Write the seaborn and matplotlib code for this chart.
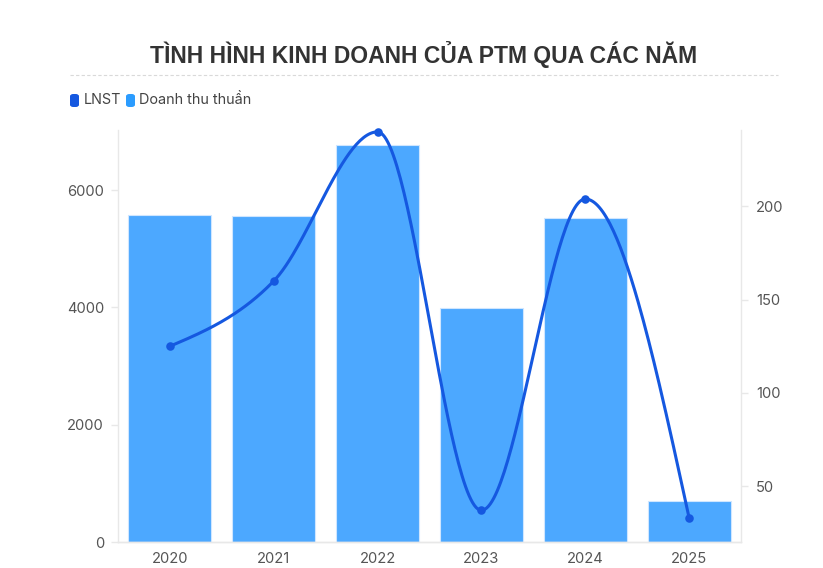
"""
Business results of PTM by year: net revenue bars and net profit line.
"""
import numpy as np
import pandas as pd
import matplotlib
matplotlib.use("Agg")
import matplotlib.pyplot as plt
import seaborn as sns
from matplotlib.patches import FancyBboxPatch
from matplotlib.lines import Line2D

# Data
years = ["2020", "2021", "2022", "2023", "2024", "2025"]
revenue = [5575, 5557, 6768, 3989, 5523, 699]     # Doanh thu thuần (left axis)
profit = [125, 160, 240, 37, 204, 33]             # LNST (right axis)

left_ticks = [0, 2000, 4000, 6000]
right_ticks = [50, 100, 150, 200]

BAR_COLOR = "#4ca8ff"
LINE_COLOR = "#1558e0"
LEGEND_BAR = "#2b9cff"
AXIS_GRAY = "#e8e8e8"
TEXT_GRAY = "#555555"

W, H = 823, 568


def fx(px):
    return px / W


def fy(py):
    return 1 - py / H


def monotone_curve(xs, ys, n=60):
    """Monotone cubic (d3 curveMonotoneX style) through the given points."""
    xs = np.asarray(xs, float)
    ys = np.asarray(ys, float)
    h = np.diff(xs)
    s = np.diff(ys) / h
    t = np.zeros_like(ys)
    for i in range(1, len(ys) - 1):
        p = (s[i - 1] * h[i] + s[i] * h[i - 1]) / (h[i - 1] + h[i])
        t[i] = (np.sign(s[i - 1]) + np.sign(s[i])) * min(abs(s[i - 1]), abs(s[i]), 0.5 * abs(p))
    t[0] = (3 * s[0] - t[1]) / 2
    t[-1] = (3 * s[-1] - t[-2]) / 2
    out_x, out_y = [], []
    for i in range(len(xs) - 1):
        u = np.linspace(0, 1, n)
        h00 = 2 * u**3 - 3 * u**2 + 1
        h10 = u**3 - 2 * u**2 + u
        h01 = -2 * u**3 + 3 * u**2
        h11 = u**3 - u**2
        out_x.append(xs[i] + u * h[i])
        out_y.append(h00 * ys[i] + h10 * h[i] * t[i] + h01 * ys[i + 1] + h11 * h[i] * t[i + 1])
    return np.concatenate(out_x), np.concatenate(out_y)


sns.set_theme(style="white")
plt.rcParams['font.family'] = ['Inter', 'DejaVu Sans']

df = pd.DataFrame({"year": years, "revenue": revenue, "profit": profit})

fig = plt.figure(figsize=(W / 100, H / 100), dpi=100)
ax = fig.add_axes([fx(118), 1 - 542 / H, 623 / W, 412 / H])

sns.barplot(data=df, x="year", y="revenue", color=BAR_COLOR, saturation=1,
            width=0.8, edgecolor="#cfe6ff", linewidth=0.8, ax=ax, zorder=2)
ax.set_xlim(-0.5, len(years) - 0.5)
ax.set_ylim(0, 7025)
ax.set_yticks(left_ticks)
ax.set_xlabel("")
ax.set_ylabel("")

ax2 = ax.twinx()
xi = np.arange(len(years))
cx, cy = monotone_curve(xi, profit)
ax2.plot(cx, cy, color=LINE_COLOR, lw=2.2, solid_capstyle="round", zorder=3)
sns.scatterplot(x=xi, y=profit, color=LINE_COLOR, s=38, edgecolor=LINE_COLOR,
                linewidth=0, ax=ax2, zorder=4, clip_on=False)
ax2.set_ylim(20, 241)
ax2.set_yticks(right_ticks)
ax2.set_xlim(-0.5, len(years) - 0.5)

for a in (ax, ax2):
    a.spines["top"].set_visible(False)
    for side in ("left", "right", "bottom"):
        a.spines[side].set_color(AXIS_GRAY)
        a.spines[side].set_linewidth(1)
    a.tick_params(axis="both", colors=AXIS_GRAY, labelcolor=TEXT_GRAY,
                  labelsize=10.6, length=5, width=1, pad=4)
ax2.spines["left"].set_visible(False)
ax.spines["right"].set_visible(False)
ax.tick_params(axis="x", pad=2)
ax.tick_params(axis="y", left=True, pad=5)
ax2.tick_params(axis="y", right=True, pad=6)
ax.set_zorder(1)
ax2.set_zorder(2)
ax2.patch.set_visible(False)

# Title and dashed separator
fig.text(fx(424), fy(55), "TÌNH HÌNH KINH DOANH CỦA PTM QUA CÁC NĂM",
         ha="center", va="center", fontsize=16.5, fontweight="bold",
         color="#333333", family=["Liberation Sans", "DejaVu Sans"])
fig.add_artist(Line2D([fx(70), fx(778)], [fy(75), fy(75)], transform=fig.transFigure,
                      color="#d9d9d9", lw=0.8, ls=(0, (3, 2))))

# Legend with rounded markers
legend_items = [("LNST", LINE_COLOR, 70, 84), ("Doanh thu thuần", LEGEND_BAR, 126, 139)]
for label, col, mx, tx in legend_items:
    fig.add_artist(FancyBboxPatch((fx(mx), fy(107)), 9 / W, 13 / H,
                                  boxstyle="round,pad=0,rounding_size=0.004",
                                  transform=fig.transFigure, facecolor=col,
                                  edgecolor="none"))
    fig.text(fx(tx), fy(100), label, ha="left", va="center", fontsize=10.4,
             color="#444444")

fig.savefig("out.png", dpi=100)
